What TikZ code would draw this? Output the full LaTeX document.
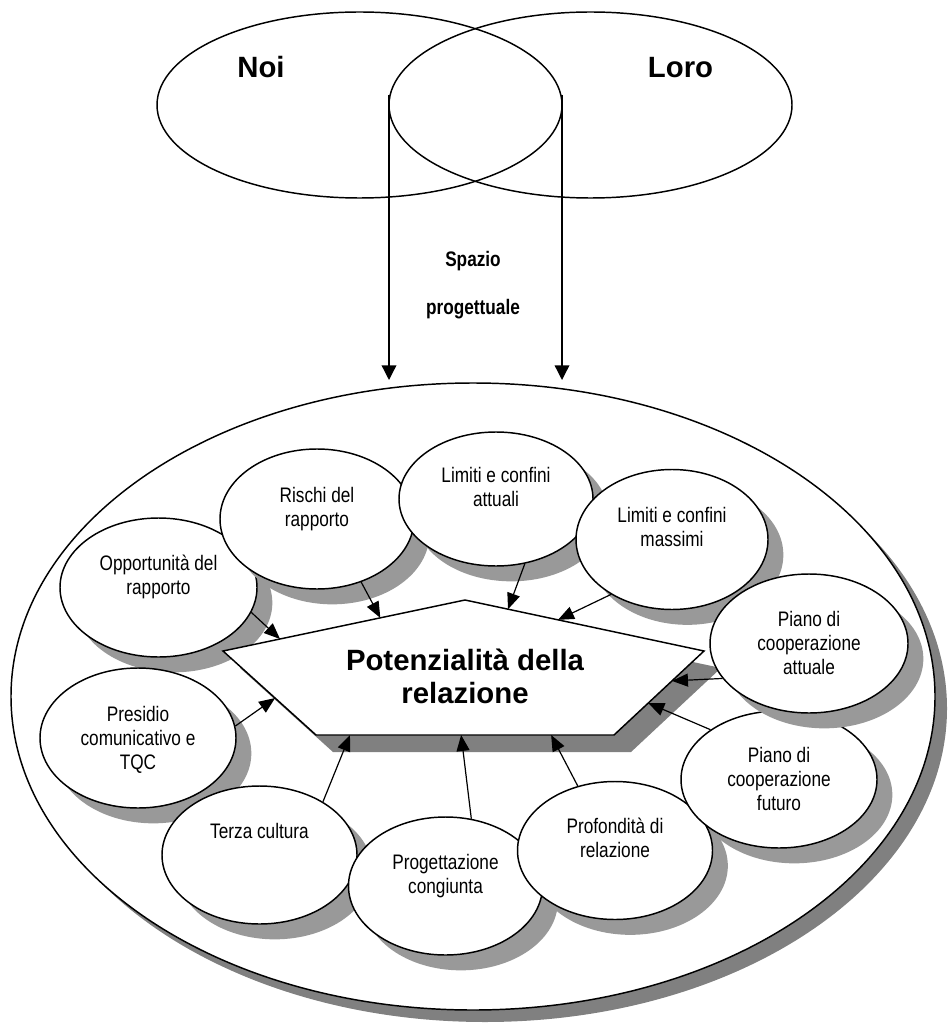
\documentclass[tikz,border=0pt]{standalone}
\usepackage{fontspec}
\setmainfont{Liberation Sans}
\newfontfamily\narrowfont[FakeStretch=0.82]{Liberation Sans}
\usetikzlibrary{shapes.geometric,shadows,arrows.meta,calc}
\begin{document}
\begin{tikzpicture}[x=0.75pt, y=-0.75pt,
  bub/.style 2 args={shape=ellipse, draw, fill=white, line width=1.1pt,
    minimum width=#1*1.5pt, minimum height=#2*1.5pt, inner sep=0pt,
    drop shadow={shadow xshift=11.5pt, shadow yshift=-11.5pt, fill=black!40, opacity=1, draw=none}},
  topell/.style 2 args={shape=ellipse, draw, line width=1.1pt,
    minimum width=#1*1.5pt, minimum height=#2*1.5pt, inner sep=0pt},
  txt/.style={font=\narrowfont\fontsize{15.75}{18}\selectfont, align=center, inner sep=0pt},
  bigtxt/.style={font=\bfseries\fontsize{22}{26}\selectfont, inner sep=0pt},
  arr/.style={-{Triangle[length=12pt,width=9.75pt]}, line width=0.9pt},
  varr/.style={-{Triangle[length=11pt,width=11pt]}, line width=1pt}]
\useasboundingbox (0,0) rectangle (947,1023);

% outer ellipse
\node[shape=ellipse, draw, fill=white, line width=1.1pt, minimum width=693pt, minimum height=470.25pt, inner sep=0pt,
  drop shadow={shadow xshift=9pt, shadow yshift=-9pt, fill=black!50, opacity=1, draw=none}] (outer) at (473,696.5) {};

% top ellipses
\node[topell={202.5}{93}] (noi) at (359.5,105) {};
\node[topell={201.5}{93}] (loro) at (590.5,105) {};
\node[bigtxt, anchor=base] (noit) at (261,78) {Noi};
\node[bigtxt, anchor=base] (lorot) at (680.5,78) {Loro};

\node[font=\narrowfont\bfseries\fontsize{15.75}{36}\selectfont, align=center, inner sep=0pt] (spazio) at (473,281.4)
  {\strut Spazio\\\strut progettuale};

\coordinate (v1s) at (389,95);
\coordinate (v1e) at (389,380);
\coordinate (v2s) at (562,95);
\coordinate (v2e) at (562,380);
\draw[varr] (v1s) -- (v1e);
\draw[varr] (v2s) -- (v2e);

% satellites
\node[bub={98.5}{69.5}] (opp) at (158.5,587.5) {};
\node[txt] (oppt) at (158.5,577.7) {\strut Opportunità del\\\strut rapporto};
\node[bub={97}{70}] (ris) at (317,519) {};
\node[txt] (rist) at (317,509.2) {\strut Rischi del\\\strut rapporto};
\node[bub={97}{67}] (lia) at (496,499) {};
\node[txt] (liat) at (496,489.2) {\strut Limiti e confini\\\strut attuali};
\node[bub={96}{70}] (lim) at (672,539.5) {};
\node[txt] (limt) at (672,529.7) {\strut Limiti e confini\\\strut massimi};
\node[bub={98}{70}] (pre) at (138,738) {};
\node[txt] (pret) at (138,740.2) {\strut Presidio\\\strut comunicativo e\\\strut TQC};
\node[bub={97.5}{69}] (ter) at (259.5,855) {};
\node[txt] (tert) at (259.5,833.2) {\strut Terza cultura};
\node[bub={97}{69}] (prg) at (445.5,886) {};
\node[txt] (prgt) at (445.5,876.2) {\strut Progettazione\\\strut congiunta};
\node[bub={97.5}{69}] (pro) at (615,850.5) {};
\node[txt] (prot) at (615,840.7) {\strut Profondità di\\\strut relazione};

% pentagon
\coordinate (pL) at (223,651);
\coordinate (pT) at (465,600);
\coordinate (pR) at (704,651);
\coordinate (pBR) at (614,735);
\coordinate (pBL) at (316,735);
\fill[black!50] (240,668) -- (482,617) -- (721,668) -- (631,752) -- (333,752) -- cycle;
\draw[fill=white, line width=1.1pt] (pL) -- (pT) -- (pR) -- (pBR) -- (pBL) -- cycle;
\node[font=\bfseries\fontsize{22}{24.75}\selectfont, align=center, inner sep=0pt] (pent) at (465,679.9)
  {\strut Potenzialità della\\\strut relazione};

\node[bub={98}{68.5}] (pcf) at (779,779.5) {};
\node[txt] (pcft) at (779,781.7) {\strut Piano di\\\strut cooperazione\\\strut futuro};
\node[bub={99}{69.5}] (pca) at (809,643.5) {};
\node[txt] (pcat) at (809,645.7) {\strut Piano di\\\strut cooperazione\\\strut attuale};

% arrow targets
\coordinate (topp) at ($(pL)!0.2355!(pT)$);
\coordinate (tris) at ($(pL)!0.65!(pT)$);
\coordinate (tlia) at ($(pT)!0.18!(pR)$);
\coordinate (tlim) at ($(pT)!0.389!(pR)$);
\coordinate (tpca) at ($(pR)!0.356!(pBR)$);
\coordinate (tpcf) at ($(pR)!0.62!(pBR)$);
\coordinate (tpro) at ($(pBR)!0.211!(pBL)$);
\coordinate (tprg) at ($(pBR)!0.513!(pBL)$);
\coordinate (tter) at ($(pBR)!0.886!(pBL)$);
\coordinate (tpre) at ($(pBL)!0.44!(pL)$);

\draw[arr] (opp.-15.3) -- (topp);
\draw[arr] (ris.-55.3) -- (tris);
\draw[arr] (lia.-66) -- (tlia);
\draw[arr] (lim.-138.9) -- (tlim);
\draw[arr] (pca.-158.1) -- (tpca);
\draw[arr] (pcf.144.9) -- (tpcf);
\draw[arr] (pro.120.3) -- (tpro);
\draw[arr] (prg.69.7) -- (tprg);
\draw[arr] (ter.40.9) -- (tter);
\draw[arr] (pre.7.7) -- (tpre);
\end{tikzpicture}
\end{document}
